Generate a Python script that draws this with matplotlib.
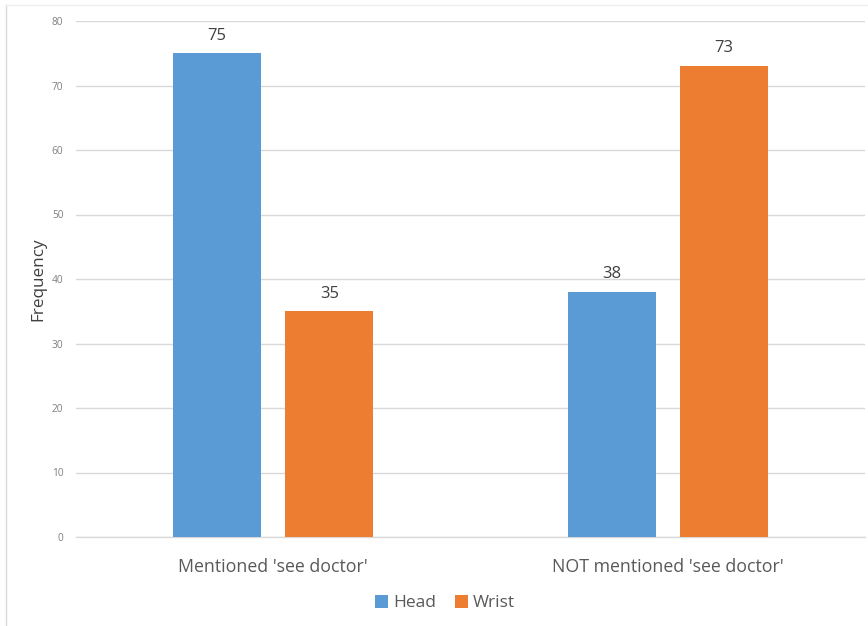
import numpy as np
import matplotlib
matplotlib.use("Agg")
import matplotlib.pyplot as plt
from matplotlib.lines import Line2D

categories = ["Mentioned 'see doctor'", "NOT mentioned 'see doctor'"]
series_names = ["Head", "Wrist"]
head_values = [75, 38]
wrist_values = [35, 73]
y_ticks = [0, 10, 20, 30, 40, 50, 60, 70, 80]

colors = ["#5B9BD5", "#ED7D31"]

plt.rcParams["font.family"] = ["Open Sans", "DejaVu Sans"]

fig = plt.figure(figsize=(8.68, 6.26), dpi=100)
ax = fig.add_axes([76 / 868, 1 - 537 / 626, (865 - 76) / 868, (537 - 21) / 626])

x = np.arange(len(categories))
width = 0.223
offset = 0.142
for i, (vals, name) in enumerate(zip([head_values, wrist_values], series_names)):
    pos = x + (i * 2 - 1) * offset
    bars = ax.bar(pos, vals, width, color=colors[i], label=name, zorder=3)
    for b, v in zip(bars, vals):
        ax.text(b.get_x() + b.get_width() / 2, v + 1.5, str(v),
                ha="center", va="bottom", fontsize=12, color="#404040")

ax.set_xlim(-0.5, 1.5)
ax.set_ylim(0, 80)
ax.set_yticks(y_ticks)
ax.set_yticklabels([str(t) for t in y_ticks], fontsize=7.3, color="#7f7f7f")
ax.set_xticks(x)
ax.set_xticklabels(categories, fontsize=12.8, color="#595959")
ax.tick_params(axis="x", length=0, pad=15)
ax.tick_params(axis="y", length=0, pad=9)
ax.grid(axis="y", color="#d9d9d9", linewidth=1, zorder=0)
ax.axhline(0, color="#d9d9d9", linewidth=1, zorder=1, clip_on=False)
for s in ax.spines.values():
    s.set_visible(False)

ax.set_ylabel("Frequency", fontsize=12.3, color="#404040")
ax.yaxis.set_label_coords(-(76 - 46) / 789, 0.5)

leg = fig.legend(loc="center", bbox_to_anchor=(445 / 868, 1 - 603 / 626),
                 ncol=2, frameon=False, fontsize=12.5, handlelength=0.75,
                 handleheight=0.75, handletextpad=0.3, columnspacing=1.1)
for t in leg.get_texts():
    t.set_color("#595959")

# light frame around the chart area
fig.add_artist(Line2D([6 / 868, 6 / 868], [0, 1 - 5 / 626], color="#d9d9d9", lw=1))
fig.add_artist(Line2D([6 / 868, 1], [1 - 5 / 626, 1 - 5 / 626], color="#eeeeee", lw=1))

fig.savefig("out.png", dpi=100)
